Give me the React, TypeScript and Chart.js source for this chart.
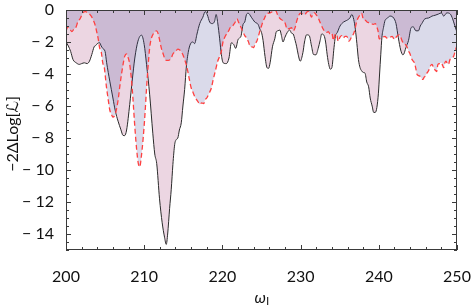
import React, { useEffect, useRef } from "react";
import { Chart, registerables } from "chart.js";

Chart.register(...registerables);

const xTicks = [200, 210, 220, 230, 240, 250];
const yTicks = [0, -2, -4, -6, -8, -10, -12, -14];
const xMin = 200;
const xMax = 250;
const yMin = -15;
const yMax = 0;
const xTitle = "ω";
const xTitleSub = "l";
const yTitle = "\u22122ΔLog[\u2112]";

const blackCurve: [number, number][] = [
  [200.0, -2.0], [200.3, -2.25], [200.6, -2.6], [200.9, -3.1], [201.3, -3.3], [201.7, -3.4],
  [202.0, -3.35], [202.35, -3.3], [202.7, -3.35], [203.0, -3.2], [203.3, -2.78], [203.6, -2.3],
  [203.85, -2.2], [204.0, -2.1], [204.3, -2.05], [204.5, -2.25], [204.7, -2.4], [205.0, -2.6],
  [205.2, -3.3], [205.6, -4.45], [206.0, -5.5], [206.3, -6.3], [206.66, -6.95], [207.0, -7.45],
  [207.3, -7.84], [207.5, -7.85], [207.75, -7.5], [208.15, -5.9], [208.46, -4.45], [208.8, -3.0],
  [209.2, -1.95], [209.65, -1.57], [210.0, -2.16], [210.3, -3.4], [210.7, -5.3], [211.1, -7.7],
  [211.35, -9.0], [211.6, -9.6], [211.96, -11.8], [212.3, -13.3], [212.6, -14.2], [212.82, -14.65],
  [213.0, -14.0], [213.25, -12.4], [213.46, -11.2], [213.67, -9.65], [213.9, -8.4], [214.1, -8.1],
  [214.3, -8.0], [214.5, -7.5], [214.74, -7.05], [214.95, -6.0], [215.17, -4.97], [215.4, -3.5],
  [215.7, -2.47], [216.0, -2.05], [216.2, -2.0], [216.45, -2.1], [216.75, -1.5], [217.1, -0.85],
  [217.5, -0.45], [217.8, -0.1], [218.07, -0.3], [218.37, -0.75], [218.7, -0.85], [219.0, -0.7],
  [219.2, -0.28], [219.4, -0.8], [219.65, -1.8], [219.87, -2.8], [220.1, -3.3], [220.5, -3.35],
  [220.84, -3.0], [221.15, -2.05], [221.45, -2.16], [221.7, -2.4], [222.0, -1.85], [222.2, -1.75],
  [222.4, -1.6], [222.64, -0.9], [222.86, -0.75], [223.08, -0.28], [223.3, -0.2], [223.7, -0.45],
  [224.14, -0.75], [224.56, -0.9], [224.8, -1.2], [225.0, -1.4], [225.2, -1.9], [225.45, -2.9],
  [225.7, -3.6], [225.9, -3.65], [226.1, -3.3], [226.4, -2.3], [226.7, -1.8], [226.9, -1.35],
  [227.1, -1.3], [227.35, -1.25], [227.55, -1.6], [227.75, -2.0], [228.0, -1.7], [228.3, -1.4],
  [228.6, -1.25], [228.85, -1.45], [229.05, -1.5], [229.3, -1.9], [229.5, -2.3], [229.7, -2.8],
  [229.95, -3.2], [230.3, -2.65], [230.5, -2.0], [230.77, -1.55], [231.1, -1.6], [231.4, -2.26],
  [231.65, -2.78], [231.96, -2.8], [232.25, -2.4], [232.5, -1.9], [232.7, -1.5], [233.0, -1.6],
  [233.2, -2.0], [233.4, -2.8], [233.6, -3.4], [233.8, -3.7], [234.0, -3.6], [234.27, -2.36],
  [234.45, -1.65], [234.7, -1.4], [235.04, -1.0], [235.5, -0.75], [235.9, -0.65], [236.3, -0.5],
  [236.55, -0.28], [236.8, -0.6], [237.0, -1.2], [237.2, -2.1], [237.4, -3.1], [237.6, -3.6],
  [237.8, -3.8], [238.0, -3.9], [238.24, -3.95], [238.46, -4.5], [238.7, -4.8], [238.9, -5.5],
  [239.15, -6.0], [239.35, -6.4], [239.55, -6.4], [239.75, -6.1], [239.95, -5.2], [240.1, -4.0],
  [240.25, -2.8], [240.4, -1.7], [240.6, -1.1], [240.8, -0.65], [241.0, -0.55], [241.45, -0.38],
  [241.9, -0.5], [242.2, -0.85], [242.5, -1.74], [242.8, -2.5], [243.07, -2.8], [243.2, -2.75],
  [243.46, -2.36], [243.8, -1.9], [244.14, -1.1], [244.4, -1.05], [244.74, -1.3], [245.07, -1.3],
  [245.3, -1.0], [245.5, -0.85], [245.9, -0.55], [246.36, -0.5], [246.8, -0.38], [247.2, -0.33],
  [247.64, -0.25], [248.0, -0.18], [248.3, -0.38], [248.7, -0.18], [249.14, -0.25], [249.44, -0.55],
  [249.7, -0.95], [250.0, -1.4],
];

const redCurve: [number, number][] = [
  [200.0, -1.3], [200.25, -1.07], [200.5, -1.2], [200.75, -1.35], [201.0, -1.2], [201.3, -1.05],
  [201.5, -0.75], [201.8, -0.55], [202.05, -0.28], [202.3, -0.12], [202.5, -0.1], [202.7, -0.15],
  [202.9, -0.2], [203.25, -0.4], [203.5, -0.65], [203.7, -0.9], [203.9, -1.3], [204.1, -1.75],
  [204.3, -2.36], [204.5, -2.6], [204.7, -3.3], [204.9, -3.6], [205.17, -4.8], [205.4, -5.6],
  [205.6, -6.25], [205.8, -6.5], [206.0, -6.7], [206.3, -6.5], [206.5, -6.1], [206.7, -5.5],
  [206.9, -4.7], [207.1, -4.0], [207.3, -3.4], [207.5, -2.9], [207.75, -2.75], [207.9, -2.9],
  [208.15, -3.4], [208.46, -4.86], [208.8, -7.3], [209.05, -8.8], [209.25, -9.6], [209.44, -9.8],
  [209.6, -9.3], [209.87, -8.0], [210.1, -6.5], [210.3, -4.9], [210.5, -3.5], [210.7, -2.36],
  [210.9, -1.8], [211.15, -1.5], [211.4, -1.35], [211.6, -1.3], [211.8, -1.5], [212.0, -1.95],
  [212.2, -2.4], [212.4, -2.7], [212.64, -3.05], [212.86, -3.15], [213.07, -3.15], [213.3, -3.1],
  [213.5, -2.95], [213.67, -2.75], [214.0, -2.6], [214.3, -2.45], [214.55, -2.5], [214.74, -2.6],
  [214.95, -2.8], [215.17, -3.1], [215.4, -3.45], [215.6, -3.9], [215.8, -4.4], [216.0, -4.86],
  [216.2, -5.1], [216.45, -5.4], [216.7, -5.6], [216.9, -5.75], [217.1, -5.9], [217.35, -5.8],
  [217.6, -5.85], [217.8, -5.6], [218.0, -5.5], [218.3, -5.2], [218.6, -4.86], [218.8, -4.4],
  [219.0, -4.0], [219.2, -3.6], [219.4, -3.2], [219.65, -2.9], [219.87, -2.57], [220.07, -2.0],
  [220.3, -1.7], [220.6, -1.45], [220.8, -1.3], [221.0, -1.1], [221.2, -1.05], [221.45, -0.9],
  [221.65, -0.75], [221.87, -0.55], [222.05, -0.75], [222.2, -0.9], [222.5, -1.22], [222.86, -1.6],
  [223.1, -1.75], [223.3, -1.95], [223.6, -2.3], [223.8, -2.3], [224.0, -2.35], [224.2, -2.1],
  [224.4, -1.95], [224.6, -1.65], [224.8, -1.3], [225.0, -1.0], [225.2, -0.7], [225.4, -0.5],
  [225.6, -0.28], [225.85, -0.2], [226.1, -0.18], [226.5, -0.08], [226.8, -0.04], [227.1, -0.35],
  [227.4, -0.55], [227.7, -0.65], [228.0, -0.8], [228.3, -1.2], [228.6, -1.15], [228.85, -1.1],
  [229.05, -1.3], [229.3, -1.1], [229.5, -0.7], [229.7, -0.4], [230.0, -0.2], [230.3, -0.25],
  [230.55, -0.28], [230.8, -0.12], [231.0, -0.08], [231.2, -0.25], [231.4, -0.45], [231.6, -0.2],
  [231.8, -0.18], [232.0, -0.3], [232.26, -0.5], [232.56, -0.85], [232.9, -1.2], [233.1, -1.35],
  [233.33, -1.4], [233.55, -1.35], [233.76, -1.5], [234.0, -1.45], [234.2, -1.9], [234.4, -1.55],
  [234.6, -1.5], [234.8, -1.95], [235.04, -1.7], [235.25, -1.6], [235.46, -1.75], [235.7, -1.65],
  [235.9, -1.65], [236.2, -1.95], [236.5, -1.7], [236.8, -1.45], [236.96, -1.2], [237.15, -0.75],
  [237.35, -0.5], [237.6, -0.3], [237.8, -0.2], [238.0, -0.55], [238.3, -0.65], [238.6, -0.78],
  [238.9, -0.8], [239.3, -0.9], [239.55, -0.85], [239.74, -1.05], [239.9, -1.3], [240.05, -1.8],
  [240.25, -1.75], [240.5, -1.7], [240.8, -1.65], [241.0, -1.75], [241.2, -1.74], [241.45, -1.7],
  [241.7, -1.65], [242.0, -1.84], [242.3, -1.64], [242.6, -1.55], [242.8, -1.7], [243.0, -1.95],
  [243.2, -2.1], [243.4, -2.16], [243.6, -2.3], [243.8, -2.57], [244.0, -2.75], [244.2, -3.05],
  [244.4, -3.2], [244.56, -3.3], [244.75, -3.7], [244.87, -4.0], [245.1, -4.1], [245.3, -4.15],
  [245.5, -4.3], [245.64, -4.34], [245.8, -4.2], [245.94, -4.14], [246.15, -3.95], [246.36, -3.8],
  [246.6, -3.5], [246.8, -3.4], [247.0, -3.6], [247.2, -3.75], [247.4, -3.85], [247.56, -3.4],
  [247.8, -3.35], [248.0, -3.3], [248.15, -3.45], [248.3, -3.6], [248.45, -3.3], [248.6, -3.2],
  [248.75, -3.35], [248.9, -3.4], [249.1, -3.1], [249.3, -3.0], [249.56, -2.9], [249.75, -2.6],
  [250.0, -2.2],
];

const FONT = "Lato, 'Open Sans', 'DejaVu Sans', sans-serif";
const FRAME = "#3a3a3a";

const fmtY = (v: number) => (v === 0 ? "0" : "\u2212 " + Math.abs(v));

const framePlugin = {
  id: "mmaFrame",
  afterDatasetsDraw(chart: any) {
    const { ctx, chartArea: a, scales } = chart;
    const xs = scales.x;
    const ys = scales.y;
    ctx.save();
    ctx.strokeStyle = FRAME;
    ctx.lineWidth = 1;
    ctx.beginPath();
    for (let i = 0; i <= (xMax - xMin) / 2; i++) {
      const v = xMin + i * 2;
      const p = Math.round(xs.getPixelForValue(v)) + 0.5;
      const len = xTicks.includes(v) ? 5 : 3;
      ctx.moveTo(p, a.bottom);
      ctx.lineTo(p, a.bottom - len);
      ctx.moveTo(p, a.top);
      ctx.lineTo(p, a.top + len);
    }
    for (let i = 0; i <= (yMax - yMin) * 2; i++) {
      const v = yMax - i * 0.5;
      const p = Math.round(ys.getPixelForValue(v)) + 0.5;
      const len = yTicks.includes(v) ? 5 : 3;
      ctx.moveTo(a.left, p);
      ctx.lineTo(a.left + len, p);
      ctx.moveTo(a.right, p);
      ctx.lineTo(a.right - len, p);
    }
    ctx.stroke();
    ctx.strokeRect(a.left + 0.5, a.top + 0.5, a.right - a.left - 1, a.bottom - a.top - 1);

    ctx.fillStyle = "#111";
    ctx.textBaseline = "alphabetic";
    const cx = (a.left + a.right) / 2;
    ctx.font = `italic 16px ${FONT}`;
    const w1 = ctx.measureText(xTitle).width;
    ctx.font = `12px ${FONT}`;
    const w2 = ctx.measureText(xTitleSub).width;
    const x0 = cx - (w1 + w2) / 2;
    ctx.font = `italic 16px ${FONT}`;
    ctx.textAlign = "left";
    ctx.fillText(xTitle, x0, chart.height - 2.5);
    ctx.font = `12px ${FONT}`;
    ctx.fillText(xTitleSub, x0 + w1 + 0.5, chart.height + 1);

    ctx.translate(12.5, (a.top + a.bottom) / 2 + 4);
    ctx.rotate(-Math.PI / 2);
    ctx.font = `16px ${FONT}`;
    ctx.textAlign = "center";
    ctx.textBaseline = "middle";
    ctx.fillText(yTitle, 0, 0);
    ctx.restore();
  },
};

export default function App() {
  const ref = useRef<HTMLCanvasElement | null>(null);
  useEffect(() => {
    if (!ref.current) return;
    const chart = new Chart(ref.current, {
      type: "line",
      data: {
        datasets: [
          {
            label: "red",
            data: redCurve.map(([x, y]) => ({ x, y })),
            borderColor: "rgb(255, 64, 64)",
            borderWidth: 1.3,
            borderDash: [5, 3],
            backgroundColor: "rgba(70, 70, 150, 0.2)",
            fill: "origin",
            pointRadius: 0,
            cubicInterpolationMode: "monotone",
          },
          {
            label: "black",
            data: blackCurve.map(([x, y]) => ({ x, y })),
            borderColor: "#2a2a2a",
            borderWidth: 1,
            backgroundColor: "rgba(160, 50, 110, 0.2)",
            fill: "origin",
            pointRadius: 0,
            cubicInterpolationMode: "monotone",
          },
        ],
      },
      options: {
        animation: false,
        responsive: false,
        maintainAspectRatio: false,
        devicePixelRatio: 1,
        layout: { padding: { top: 10, right: 14, bottom: 0, left: 0 } },
        plugins: { legend: { display: false }, tooltip: { enabled: false } },
        scales: {
          x: {
            type: "linear",
            min: xMin,
            max: xMax,
            grid: { display: false },
            border: { display: false },
            afterBuildTicks: (s: any) => {
              s.ticks = xTicks.map((v) => ({ value: v }));
            },
            afterFit: (s: any) => {
              s.height = 55;
              s.paddingLeft = 0;
              s.paddingRight = 0;
            },
            ticks: {
              maxRotation: 0,
              autoSkip: false,
              padding: 9,
              color: "#111",
              font: { family: FONT, size: 16 },
            },
          },
          y: {
            type: "linear",
            min: yMin,
            max: yMax,
            grid: { display: false },
            border: { display: false },
            afterBuildTicks: (s: any) => {
              s.ticks = yTicks.map((v) => ({ value: v }));
            },
            afterFit: (s: any) => {
              s.width = 66;
              s.paddingTop = 0;
              s.paddingBottom = 0;
            },
            ticks: {
              autoSkip: false,
              padding: 4,
              color: "#111",
              font: { family: FONT, size: 16 },
              callback: (v: any) => fmtY(Number(v)),
            },
          },
        },
      },
      plugins: [framePlugin],
    } as any);
    return () => chart.destroy();
  }, []);
  return (
    <div style={{ position: "absolute", left: 0, top: 0, width: 471, height: 305, background: "#fff" }}>
      <canvas ref={ref} width={471} height={305} style={{ display: "block" }} />
    </div>
  );
}
